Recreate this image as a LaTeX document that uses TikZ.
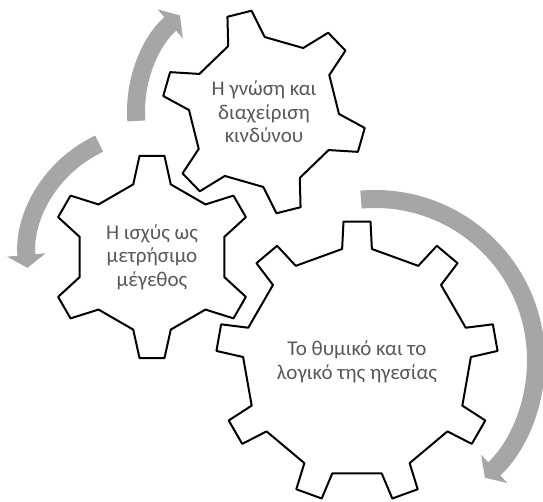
\documentclass[tikz,border=0pt]{standalone}
\usepackage{fontspec}
\setmainfont{Carlito}
\usetikzlibrary{arrows.meta,backgrounds}
\definecolor{arrowgray}{RGB}{166,166,166}
\definecolor{textgray}{RGB}{89,89,89}

% gear outline round a named node: node, teeth, inner r, outer r, tip half angle, base half angle, first tooth
\newcommand{\gear}[7]{%
  \draw[gearline,shift={(#1.center)}] ({#7-#6}:#3)
    \foreach \k in {1,...,#2}{
      -- ({#7+360/#2*(\k-1)-#6}:#3) -- ({#7+360/#2*(\k-1)-#5}:#4)
      -- ({#7+360/#2*(\k-1)+#5}:#4) -- ({#7+360/#2*(\k-1)+#6}:#3)
    } -- cycle;}

\begin{document}
\begin{tikzpicture}[
  x=1pt,y=1pt,
  gtext/.style={align=center,text=textgray,font=\fontsize{21}{23.5}\selectfont},
  gearline/.style={draw=black,line width=2pt,fill=white,line join=round},
  cyc/.style={draw=arrowgray,line width=18pt,-{Triangle[width=38pt,length=13pt]}},
]
\useasboundingbox (0,0) rectangle (543,501);
\node[gtext] (know) at (264,389) {Η γνώση και\\διαχείριση\\κινδύνου};
\node[gtext] (power) at (152,244) {Η ισχύς ως\\μετρήσιμο\\μέγεθος};
\node[gtext] (lead) at (357,139) {Το θυμικό και το\\λογικό της ηγεσίας};
\begin{scope}[on background layer]
  \draw[cyc] (375,141) ++(95:161) arc[start angle=95,end angle=-47,radius=161];
  \draw[cyc] (power.center) ++(115:125) arc[start angle=115,end angle=185,radius=125];
  \draw[cyc] (know.center) ++(184:128) arc[start angle=184,end angle=131,radius=128];
  \gear{lead}{9}{114}{141}{5.5}{7.5}{90}
  \gear{power}{6}{75}{102}{7}{14.5}{90}
  \gear{know}{6}{75}{102}{7}{14.5}{44}
\end{scope}
\end{tikzpicture}
\end{document}
